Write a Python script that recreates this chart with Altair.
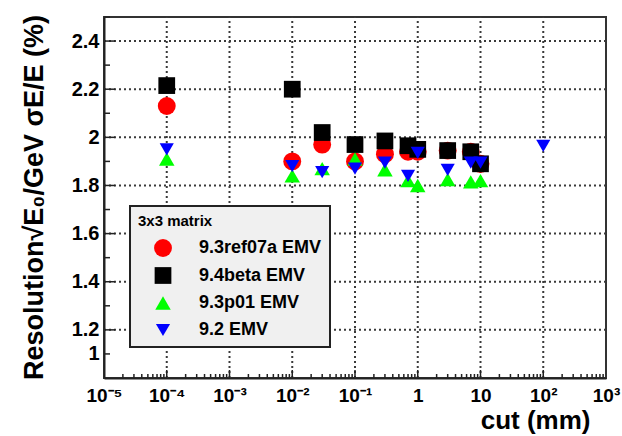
import altair as alt
import pandas as pd

# ---- data ----
cuts = [1e-4, 0.01, 0.03, 0.1, 0.3, 0.7, 1, 3, 7, 10, 100]
series_names = ["9.3ref07a EMV", "9.4beta EMV", "9.3p01 EMV", "9.2 EMV"]
res_ref07a = [2.13, 1.90, 1.97, 1.90, 1.93, 1.94, 1.94, 1.945, 1.94, 1.89, None]
res_94beta = [2.215, 2.20, 2.02, 1.97, 1.985, 1.965, 1.95, 1.945, 1.94, 1.89, None]
res_93p01 = [1.91, 1.84, 1.87, 1.91, 1.865, 1.82, 1.80, 1.825, 1.815, 1.82, None]
res_92 = [1.95, 1.88, 1.855, 1.87, 1.895, 1.84, 1.935, 1.865, 1.895, 1.895, 1.965]

colors = ["#ff0000", "#000000", "#00ff00", "#0000ff"]
shapes = ["circle", "square", "triangle-up", "triangle-down"]
sizes = [320, 200, 160, 180]

y_major = [1.0, 1.2, 1.4, 1.6, 1.8, 2.0, 2.2, 2.4]
y_minor = [1.1, 1.3, 1.5, 1.7, 1.9, 2.1, 2.3, 2.5]
x_major = [1e-5, 1e-4, 1e-3, 1e-2, 1e-1, 1, 10, 100, 1000]
x_labels = ["10⁻⁵", "10⁻⁴", "10⁻³", "10⁻²", "10⁻¹", "1", "10", "10²", "10³"]
x_minor = [m * d for d in x_major[:-1] for m in range(2, 10)]
x_range = [1e-5, 1e3]
y_range = [1.0, 2.5]

legend_title = "3x3 matrix"
x_title = "cut (mm)"
y_title = "Resolution√E₀/GeV σE/E (%)"

# ---- build tables ----
rows = []
for name, vals in zip(series_names, [res_ref07a, res_94beta, res_93p01, res_92]):
    for c, v in zip(cuts, vals):
        if v is not None:
            rows.append({"cut": c, "res": v, "series": name})
df = pd.DataFrame(rows)

hgrid = pd.DataFrame([{"cut": c, "res": v, "k": i} for i, v in enumerate(y_major[1:]) for c in x_range])
vgrid = pd.DataFrame([{"cut": c, "res": v, "k": i} for i, c in enumerate(x_major[1:-1]) for v in y_range])

FONT = "Liberation Sans"
W, H = 502, 361
GRID = "#3a3a3a"
TICK = "#222222"

xscale = alt.Scale(type="log", domain=x_range, nice=False)
yscale = alt.Scale(domain=y_range, nice=False, zero=False)

label_expr = "[" + ",".join("'" + l + "'" for l in x_labels) + "][round(log(datum.value)/LN10)+5]"

xaxis = alt.Axis(
    values=x_major, labelExpr=label_expr, title=x_title, ticks=False, grid=False,
    labelFont=FONT, labelFontWeight="bold", labelFontSize=19, labelColor="black",
    labelPadding=8, labelFlush=False, labelOverlap=False,
    domainColor="#222222", domainWidth=2,
    titleFont=FONT, titleFontWeight="bold", titleFontSize=26, titleColor="black",
    titleX=486, titleY=50, titleAlign="right", titleBaseline="alphabetic",
)
yaxis = alt.Axis(
    values=y_major, format=".1~f", title=y_title, ticks=False, grid=False,
    labelFont=FONT, labelFontWeight="bold", labelFontSize=20, labelColor="black",
    labelPadding=5, labelOverlap=False,
    labelOffset={"condition": {"test": "datum.value == 1", "value": -25}, "value": 0},
    domainColor="#222222", domainWidth=2,
    titleFont=FONT, titleFontWeight="bold", titleFontSize=27, titleColor="black",
    titleX=-62, titleY=180, titleAngle=-90, titleAlign="center", titleBaseline="alphabetic",
)

legend = alt.Legend(title=legend_title, orient="none", legendX=26, legendY=189)

X = lambda: alt.X("cut:Q", scale=xscale, axis=xaxis)
Y = lambda: alt.Y("res:Q", scale=yscale, axis=yaxis)

hgrid_layer = alt.Chart(hgrid).mark_line(stroke=GRID, strokeWidth=2, strokeDash=[2, 3], opacity=1).encode(
    x=X(), y=Y(), detail="k:N"
)
vgrid_layer = alt.Chart(vgrid).mark_line(stroke=GRID, strokeWidth=2, strokeDash=[2, 3], opacity=1).encode(
    x=X(), y=Y(), detail="k:N", order="res:Q"
)

ymaj_ticks = alt.Chart(pd.DataFrame({"res": y_major[1:]})).mark_rule(stroke=TICK, strokeWidth=1.5, opacity=1).encode(
    y=Y(), x=alt.value(0), x2=alt.value(11)
)
ymin_ticks = alt.Chart(pd.DataFrame({"res": y_minor})).mark_rule(stroke=TICK, strokeWidth=1.5, opacity=1).encode(
    y=Y(), x=alt.value(0), x2=alt.value(6)
)
xmaj_ticks = alt.Chart(pd.DataFrame({"cut": x_major[1:-1]})).mark_rule(stroke=TICK, strokeWidth=1.5, opacity=1).encode(
    x=X(), y=alt.value(H), y2=alt.value(H - 8)
)
xmin_ticks = alt.Chart(pd.DataFrame({"cut": x_minor})).mark_rule(stroke=TICK, strokeWidth=1.5, opacity=1).encode(
    x=X(), y=alt.value(H), y2=alt.value(H - 4)
)

points = alt.Chart(df).mark_point(filled=True, opacity=1, strokeWidth=0).encode(
    x=X(), y=Y(),
    color=alt.Color("series:N", scale=alt.Scale(domain=series_names, range=colors), legend=legend),
    shape=alt.Shape("series:N", scale=alt.Scale(domain=series_names, range=shapes), legend=legend),
    size=alt.Size("series:N", scale=alt.Scale(domain=series_names, range=sizes), legend=legend),
)

chart = alt.layer(
    hgrid_layer, vgrid_layer, ymaj_ticks, ymin_ticks, xmaj_ticks, xmin_ticks, points
).properties(
    width=W, height=H,
    autosize=alt.AutoSizeParams(type="none"),
    padding={"left": 104, "top": 17, "right": 16, "bottom": 58},
    background="white",
).configure_view(
    stroke="#333333", strokeWidth=2
).configure_legend(
    fillColor="#f0f0f0", strokeColor="#222222", strokeWidth=2, padding=8,
    titleFont=FONT, titleFontWeight="bold", titleFontSize=15, titleColor="black", titlePadding=9,
    labelFont=FONT, labelFontWeight="bold", labelFontSize=18, labelColor="black",
    labelOffset=26, symbolOffset=15, rowPadding=9, labelLimit=400,
)

chart.save("out.html", embed_options={"renderer": "svg", "actions": False})
